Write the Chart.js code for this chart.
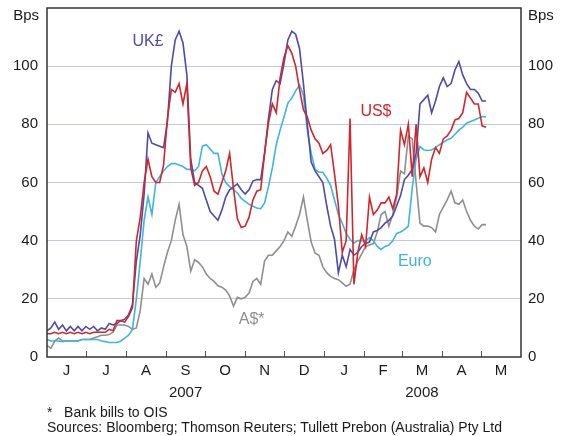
<!DOCTYPE html>
<html>
<head>
<meta charset="utf-8">
<script src="https://cdn.jsdelivr.net/npm/chart.js@4.4.1/dist/chart.umd.min.js"></script>
<style>
  html, body { margin: 0; padding: 0; background: #fff; }
  #wrap { position: relative; width: 565px; height: 436px; }
  .note {
    position: absolute;
    left: 47px;
    font: 14px "Liberation Sans", Arial, sans-serif;
    line-height: 16px;
    color: #1a1a1a;
    white-space: nowrap;
  }
</style>
</head>
<body>
<div id="wrap">
  <canvas id="spreadChart" width="565" height="436"></canvas>
  <div class="note" style="top:404px">*&nbsp;&nbsp;&nbsp;Bank bills to OIS</div>
  <div class="note" style="top:419px">Sources: Bloomberg; Thomson Reuters; Tullett Prebon (Australia) Pty Ltd</div>
</div>

<script>
// ---- DATA ----
// days counted from 1 June 2007
const days = [
  0, 3, 6, 9, 12, 15, 18, 21, 24, 27,
  30, 33, 36, 39, 42, 45, 48, 51, 54, 57,
  60, 63, 66, 69, 72, 75, 78, 81, 84, 87,
  90, 93, 96, 99, 102, 105, 108, 111, 114, 117,
  120, 123, 126, 129, 132, 135, 138, 141, 144, 147,
  150, 153, 156, 159, 162, 165, 168, 171, 174, 177,
  180, 183, 186, 189, 192, 195, 198, 201, 204, 207,
  210, 213, 216, 219, 222, 225, 228, 231, 234, 237,
  240, 243, 246, 249, 252, 255, 258, 261, 264, 267,
  270, 273, 276, 279, 282, 285, 288, 291, 294, 297,
  300, 303, 306, 309, 312, 315, 318, 321, 324, 327,
  330, 333, 336, 339
];

// spreads in basis points
const ukPound = [
  9, 10, 12, 9.5, 11, 9, 10.5, 9, 10.5, 9,
  10.5, 9.5, 10.5, 9, 10, 9.5, 11.5, 11, 11.5, 12.5,
  13, 14.5, 18, 33, 42, 56, 77, 73.5, 73, 72.5,
  72, 81, 100, 109, 112, 108, 97, 68, 60, 59,
  58, 54, 50, 48.5, 47, 50.5, 55, 57.5, 58.5, 59.5,
  57.5, 56, 57.5, 60.5, 61, 61, 70, 82, 92, 95,
  94, 101, 109, 112, 111, 106, 94, 80, 67, 64,
  62, 60, 52, 45, 40.5, 29, 35, 31, 37, 35,
  36, 38, 39, 39.5, 43, 43.5, 44.5, 46, 47, 48.5,
  52, 55.5, 61, 62.5, 64.5, 70, 87, 88.5, 90, 84,
  88, 93, 96, 93, 94, 98.7, 101.6, 97, 94, 92,
  92, 90.7, 88, 88
];

const usDollar = [
  8, 8, 8.5, 8, 8.5, 8, 8.5, 8, 8.5, 8,
  8.5, 8, 8.5, 8.5, 8.5, 8.5, 9.5, 9, 12.5, 12.5,
  12, 14, 17, 40, 48, 60, 68, 62, 60, 60,
  66, 82, 92, 91, 94, 87, 94, 65, 59, 60,
  64, 65.5, 62, 57, 56, 60, 64, 70, 58, 47.5,
  44.5, 45, 48, 54, 57, 57.5, 70, 80.5, 87, 84,
  96, 103, 107, 104.5, 100, 92, 85, 82.5, 78, 75,
  73.5, 70, 71, 73, 63, 52, 36, 40, 82, 25,
  36, 42, 38, 55, 49, 50.5, 53, 53, 55, 51,
  56, 78, 73, 80, 62, 80, 62, 65, 60, 68,
  72, 70, 75, 76, 78, 81.5, 82, 84, 91, 89,
  87, 87, 79.5, 79
];

const euro = [
  6, 5.5, 5.5, 5.5, 5.3, 5.5, 5.5, 5.5, 5.5, 6,
  6, 6, 6, 6, 5.5, 5.3, 5, 5, 5, 5.5,
  6.5, 7.5, 9.5, 20, 33, 47, 55, 49, 60, 62,
  64, 65.5, 66.5, 66.5, 66, 65.5, 64.5, 64.5, 64, 65.5,
  72.5, 73, 71.5, 70, 70, 63, 60, 58.6, 57.5, 56.4,
  54.5, 53.5, 52.5, 51.8, 51.2, 51, 53, 58.6, 65, 73,
  78, 82.5, 87.3, 89, 91.5, 93.5, 90, 78, 70, 64.5,
  63.5, 63.5, 61.5, 59, 54, 49, 46, 42.5, 40.5, 39.2,
  40, 40, 40, 41, 40, 38, 37, 38, 38.5, 40,
  42.5, 43, 43.8, 45, 58, 68, 72.4, 71.2, 71, 71.2,
  72, 73, 73.8, 74.7, 75.2, 76.6, 78, 79, 80.4, 81,
  81.5, 82.1, 82.7, 82.5
];

const ausDollar = [
  4, 3, 5.5, 6.5, 5.5, 5.5, 5.5, 5.5, 5.5, 6,
  6, 6, 6.5, 7, 7.5, 7.5, 7.7, 8.5, 11, 11,
  11, 10.5, 9.5, 10, 16, 27, 25, 28.5, 24, 25.4,
  31, 36, 40, 47, 52.5, 42, 38, 29.5, 33.4, 32.5,
  31, 28.5, 27, 26, 24.5, 24, 23, 21, 17.5, 20.5,
  20, 20.5, 22, 26, 27, 25, 33, 35, 35, 36.5,
  38, 40, 43, 41.5, 45, 49, 55, 47, 39.5, 35.7,
  35, 31, 29, 27.7, 27, 26.6, 25.5, 24.3, 25, 30,
  33, 35.5, 38, 38.5, 39, 43, 49, 50, 45, 49,
  55, 64, 63, 76, 75, 60, 46, 45, 45, 44.5,
  43, 49, 51.5, 54, 57, 53, 52.5, 54, 50, 47,
  45, 44, 45.5, 45.5
];

// axis
const monthStarts = [0, 30, 61, 92, 122, 153, 183, 214, 245, 274, 305, 335, 366];
const monthLabels = ["J", "J", "A", "S", "O", "N", "D", "J", "F", "M", "A", "M"];
const yearLabels = ["", "", "", "2007", "", "", "", "", "", "2008", "", ""];
const yTicks = [0, 20, 40, 60, 80, 100];

const FONT = '"Liberation Sans", Arial, sans-serif';
const TEXT = "#1a1a1a";
const colors = {
  us: "#d2262b",
  uk: "#4f4aa8",
  euro: "#3db5e3",
  aus: "#8f8f8f",
};

const monthMids = monthLabels.map((m, i) => (monthStarts[i] + monthStarts[i + 1]) / 2);

const toPoints = (vals) => vals.map((v, i) => ({ x: days[i], y: v }));

function line(label, vals, color) {
  return {
    label,
    data: toPoints(vals),
    borderColor: color,
    backgroundColor: color,
    borderWidth: 1.6,
    pointRadius: 0,
    tension: 0,
    fill: false,
  };
}

// no extra room for the axis labels, the layout padding does that
function noPadding(s) {
  s.paddingTop = 0;
  s.paddingBottom = 0;
  s.paddingLeft = 0;
  s.paddingRight = 0;
}

// ---- frame, month ticks, Bps units and series names ----
const chartFrame = {
  id: "chartFrame",
  afterDatasetsDraw(chart) {
    const { ctx, chartArea: a, scales } = chart;
    const x = scales.x;
    const y = scales.y;
    ctx.save();

    // month ticks, pointing up into the plot
    ctx.strokeStyle = "#555";
    ctx.lineWidth = 1;
    monthStarts.slice(1, -1).forEach((d) => {
      const px = Math.round(x.getPixelForValue(d)) + 0.5;
      ctx.beginPath();
      ctx.moveTo(px, a.bottom);
      ctx.lineTo(px, a.bottom - 6);
      ctx.stroke();
    });

    // box round the plot
    ctx.strokeStyle = "#333";
    ctx.lineWidth = 1.5;
    ctx.strokeRect(a.left, a.top, a.right - a.left, a.bottom - a.top);

    // units
    ctx.fillStyle = TEXT;
    ctx.font = "15px " + FONT;
    ctx.textBaseline = "middle";
    ctx.textAlign = "right";
    ctx.fillText("Bps", a.left - 8, a.top + 8);
    ctx.textAlign = "left";
    ctx.fillText("Bps", a.right + 7, a.top + 8);

    // series names
    const names = [
      ["UK£", 78, 108.5, colors.uk],
      ["US$", 254, 84.3, colors.us],
      ["Euro", 284, 32.7, colors.euro],
      ["A$*", 158, 12.8, colors.aus],
    ];
    ctx.font = "16px " + FONT;
    ctx.textAlign = "center";
    names.forEach(([txt, d, v, c]) => {
      ctx.fillStyle = c;
      ctx.fillText(txt, x.getPixelForValue(d), y.getPixelForValue(v));
    });

    ctx.restore();
  },
};

const ctx = document.getElementById("spreadChart").getContext("2d");

new Chart(ctx, {
  type: "line",
  data: {
    datasets: [
      line("US$", usDollar, colors.us),
      line("UK£", ukPound, colors.uk),
      line("Euro", euro, colors.euro),
      line("A$*", ausDollar, colors.aus),
    ],
  },
  options: {
    responsive: false,
    animation: false,
    devicePixelRatio: 1,
    layout: { padding: { top: 8, left: 0, right: 0, bottom: 0 } },
    plugins: {
      legend: { display: false },
      tooltip: { enabled: false },
    },
    scales: {
      x: {
        type: "linear",
        min: 0,
        max: 366,
        afterBuildTicks: (s) => {
          s.ticks = monthMids.map((v) => ({ value: v }));
        },
        afterFit: (s) => {
          s.height = 79;
          noPadding(s);
        },
        grid: { display: false, drawTicks: false },
        border: { display: false },
        ticks: {
          autoSkip: false,
          maxRotation: 0,
          padding: 3,
          color: TEXT,
          font: { family: FONT, size: 15, lineHeight: 1.45 },
          callback: (value, i) => (yearLabels[i] ? [monthLabels[i], yearLabels[i]] : monthLabels[i]),
        },
      },
      y: {
        position: "left",
        min: 0,
        max: 120,
        afterBuildTicks: (s) => {
          s.ticks = yTicks.map((v) => ({ value: v }));
        },
        afterFit: (s) => {
          s.width = 47;
          noPadding(s);
        },
        grid: {
          drawTicks: false,
          lineWidth: 1,
          color: (c) => (c.tick && c.tick.value === 0 ? "rgba(0,0,0,0)" : "#c5c9d1"),
        },
        border: { display: false },
        ticks: {
          padding: 9,
          color: TEXT,
          font: { family: FONT, size: 15 },
        },
      },
      y2: {
        position: "right",
        min: 0,
        max: 120,
        afterBuildTicks: (s) => {
          s.ticks = yTicks.map((v) => ({ value: v }));
        },
        afterFit: (s) => {
          s.width = 44;
          noPadding(s);
        },
        grid: { display: false, drawTicks: false },
        border: { display: false },
        ticks: {
          padding: 7,
          color: TEXT,
          font: { family: FONT, size: 15 },
        },
      },
    },
  },
  plugins: [chartFrame],
});
</script>
</body>
</html>
